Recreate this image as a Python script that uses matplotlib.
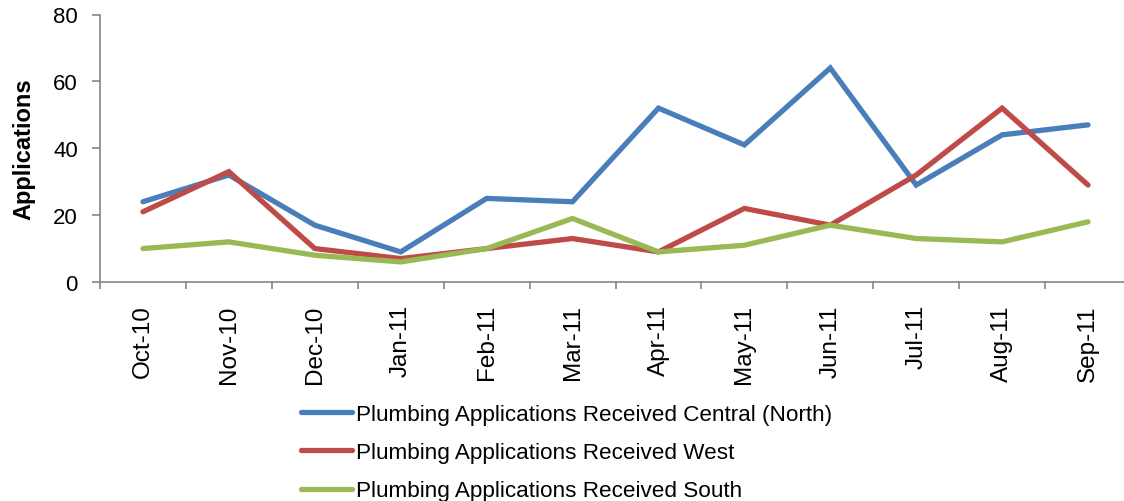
import matplotlib
matplotlib.use("Agg")
import matplotlib.pyplot as plt
import numpy as np

months = ["Oct-10", "Nov-10", "Dec-10", "Jan-11", "Feb-11", "Mar-11",
          "Apr-11", "May-11", "Jun-11", "Jul-11", "Aug-11", "Sep-11"]
central = [24, 32, 17, 9, 25, 24, 52, 41, 64, 29, 44, 47]
west = [21, 33, 10, 7, 10, 13, 9, 22, 17, 32, 52, 29]
south = [10, 12, 8, 6, 10, 19, 9, 11, 17, 13, 12, 18]

labels = ["Plumbing Applications Received Central (North)",
          "Plumbing Applications Received West",
          "Plumbing Applications Received South"]
colors = ["#4A7EBB", "#BE4B48", "#98B954"]

plt.rcParams["font.family"] = ["Liberation Sans", "DejaVu Sans"]

fig = plt.figure(figsize=(11.24, 5.02), dpi=100)
ax = fig.add_axes([100/1124, 219/502, 1031/1124, 267.5/502])

x = np.arange(len(months))
for ys, lab, c in zip([central, west, south], labels, colors):
    ax.plot(x, ys, color=c, lw=3.8, label=lab, solid_capstyle="round",
            solid_joinstyle="miter")

ax.set_xlim(-0.5, len(months) - 0.5)
ax.set_ylim(0, 80)
ax.set_yticks([0, 20, 40, 60, 80])
ax.set_xticks(x)
ax.set_xticklabels(months, rotation=90, fontsize=17.5)
ax.set_xticks(np.arange(len(months) + 1) - 0.5, minor=True)
ax.tick_params(axis="x", which="major", length=0, pad=16)
ax.tick_params(axis="x", which="minor", length=5, width=1.2, color="#868686")
ax.tick_params(axis="y", length=6, width=1.2, color="#868686", labelsize=16, pad=10)
ax.set_ylabel("Applications", fontsize=17, fontweight="bold", labelpad=13)

for s in ["top", "right"]:
    ax.spines[s].set_visible(False)
for s in ["left", "bottom"]:
    ax.spines[s].set_color("#868686")
    ax.spines[s].set_linewidth(1.2)

fig.legend(loc="upper left", bbox_to_anchor=(281/1124, 1 - 385/502), frameon=False,
           fontsize=16.2, handlelength=2.25, handletextpad=0.2, labelspacing=0.76)

fig.savefig("out.png", dpi=100)
